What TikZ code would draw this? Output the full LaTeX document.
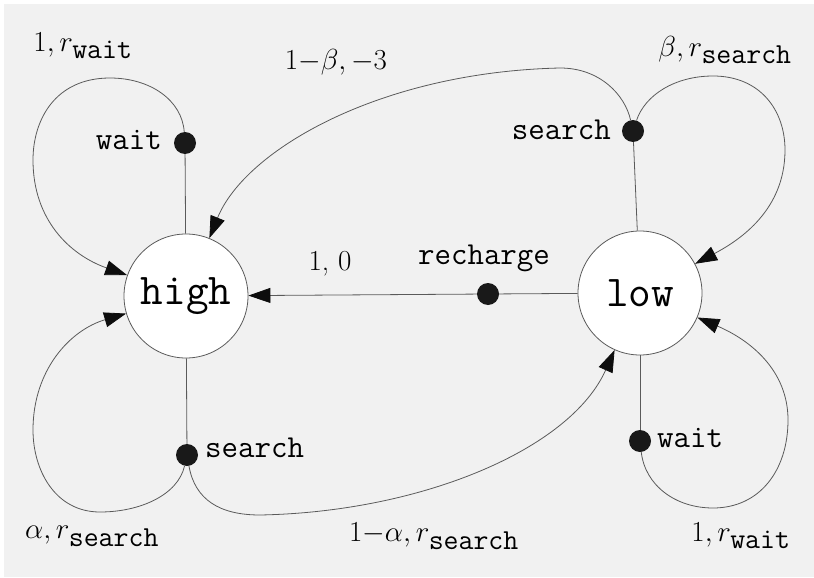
\documentclass[tikz,border=0pt]{standalone}
\usepackage{fix-cm}
\usetikzlibrary{arrows.meta}
\definecolor{bggray}{HTML}{F1F1F1}
\definecolor{linegray}{HTML}{5A5A5A}
\begin{document}
\begin{tikzpicture}[x=1pt,y=-1pt,
  state/.style={circle,draw=linegray,fill=white,line width=0.8pt,minimum size=124pt,inner sep=0pt,font=\fontsize{44}{44}\selectfont\ttfamily},
  actdot/.style={circle,fill=black!90,minimum size=22pt,inner sep=0pt},
  act/.style={font=\fontsize{32}{32}\selectfont\ttfamily,inner sep=0pt},
  prob/.style={font=\fontsize{29}{30}\selectfont,inner sep=0pt},
  conn/.style={draw=linegray,line width=0.8pt},
  arr/.style={conn,-{Triangle[length=22pt,width=15pt,color=black!95]}}]
\useasboundingbox (0,0) rectangle (814,578);
\fill[white] (0,0) rectangle (814,578);
\fill[bggray] (4,4) rectangle (814,577);

\node[state] (high) at (186,296) {high};
\node[state] (low) at (640,293) {low};
\node[actdot] (hw) at (185,143) {};
\node[actdot] (hs) at (187,455) {};
\node[actdot] (ls) at (633,131) {};
\node[actdot] (lw) at (640,441) {};
\node[actdot] (rc) at (488,294) {};

% action connectors
\draw[conn] (high) -- (hw);
\draw[conn] (high) -- (hs);
\draw[conn] (low) -- (ls);
\draw[conn] (low) -- (lw);
\draw[conn] (low) -- (rc);

% transitions
\draw[arr] (rc) -- (high);
\draw[arr] (hw) .. controls (182,100) and (150,78) .. (110,78)
  .. controls (55,78) and (33,120) .. (33,160)
  .. controls (33,220) and (70,255) .. (high);
\draw[arr] (hs) .. controls (178,495) and (140,512) .. (100,512)
  .. controls (55,512) and (33,470) .. (33,430)
  .. controls (33,370) and (70,330) .. (high);
\draw[arr] (hs) .. controls (195,500) and (220,515) .. (260,515)
  .. controls (420,512) and (570,450) .. (low);
\draw[arr] (ls) .. controls (625,95) and (600,68) .. (560,68)
  .. controls (380,72) and (245,150) .. (high);
\draw[arr] (ls) .. controls (645,95) and (675,76) .. (713,76)
  .. controls (760,76) and (785,110) .. (785,150)
  .. controls (785,210) and (740,240) .. (low);
\draw[arr] (lw) .. controls (645,485) and (675,508) .. (713,508)
  .. controls (760,508) and (788,470) .. (788,420)
  .. controls (788,370) and (750,340) .. (low);

% action labels
\node[act,anchor=east] (lhw) at (162,140) {wait};
\node[act,anchor=east] (lls) at (611,130) {search};
\node[act,anchor=west] (lhs) at (205,448) {search};
\node[act,anchor=west] (llw) at (657,438) {wait};
\node[act] (lrc) at (484,258) {recharge};

% probability / reward labels
\node[prob] (p1) at (83,46) {$1, r_{\texttt{wait}}$};
\node[prob] (p2) at (336,62) {$1{-}\beta, -3$};
\node[prob] (p3) at (725,50) {$\beta, r_{\texttt{search}}$};
\node[prob] (p4) at (92,536) {$\alpha, r_{\texttt{search}}$};
\node[prob] (p5) at (434,536) {$1{-}\alpha, r_{\texttt{search}}$};
\node[prob] (p6) at (741,536) {$1, r_{\texttt{wait}}$};
\node[prob] (p7) at (330,264) {1,~0};
\end{tikzpicture}
\end{document}
